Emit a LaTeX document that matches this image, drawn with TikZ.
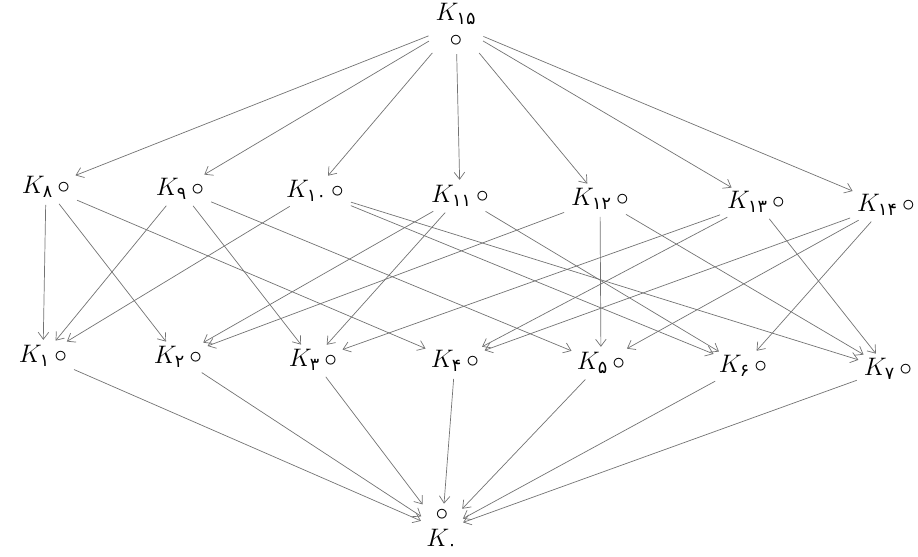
\documentclass[tikz,border=0pt]{standalone}
\usepackage{amsmath}
\usepackage{fontspec}
\usepackage{tikz}
\usetikzlibrary{arrows.meta}
\newfontfamily\fadigit{DejaVu Sans}
\newcommand{\klab}[1]{$K_{\text{\fadigit #1}}$}

\begin{document}
\begin{tikzpicture}[
  x=0.02cm, y=-0.02cm,
  vtx/.style={font=\Large, inner sep=1pt},
  conn/.style={draw=black!55, thin, -{Straight Barb[length=4pt,width=6pt]},
               shorten <=3pt, shorten >=2pt},
]
  \useasboundingbox (0,0) rectangle (918,556);

  \node[vtx, align=center] (k15) at (456,25) {\klab{۱۵}\\[-3pt]$\circ$};

  \node[vtx] (k8)  at (46,187)  {\klab{۸}\,$\circ$};
  \node[vtx] (k9)  at (180,189) {\klab{۹}\,$\circ$};
  \node[vtx] (k10) at (315,191) {\klab{۱۰}\,$\circ$};
  \node[vtx] (k11) at (460,196) {\klab{۱۱}\,$\circ$};
  \node[vtx] (k12) at (600,199) {\klab{۱۲}\,$\circ$};
  \node[vtx] (k13) at (756,202) {\klab{۱۳}\,$\circ$};
  \node[vtx] (k14) at (886,205) {\klab{۱۴}\,$\circ$};

  \node[vtx] (k1) at (43,356)  {\klab{۱}\,$\circ$};
  \node[vtx] (k2) at (178,357) {\klab{۲}\,$\circ$};
  \node[vtx] (k3) at (313,360) {\klab{۳}\,$\circ$};
  \node[vtx] (k4) at (455,361) {\klab{۴}\,$\circ$};
  \node[vtx] (k5) at (601,363) {\klab{۵}\,$\circ$};
  \node[vtx] (k6) at (743,366) {\klab{۶}\,$\circ$};
  \node[vtx] (k7) at (888,369) {\klab{۷}\,$\circ$};

  \node[vtx, align=center] (k0) at (442,530) {$\circ$\\[-3pt]\klab{۰}};

  \foreach \u in {8,...,14}
    \draw[conn] (k15) -- (k\u);
  \foreach \u/\l in {8/1, 8/2, 8/4, 9/1, 9/3, 9/5, 10/1, 10/6, 10/7,
                     11/2, 11/3, 11/6, 12/2, 12/5, 12/7, 13/3, 13/4, 13/7,
                     14/4, 14/5, 14/6}
    \draw[conn] (k\u) -- (k\l);
  \foreach \l in {1,...,7}
    \draw[conn] (k\l) -- (k0);
\end{tikzpicture}
\end{document}
